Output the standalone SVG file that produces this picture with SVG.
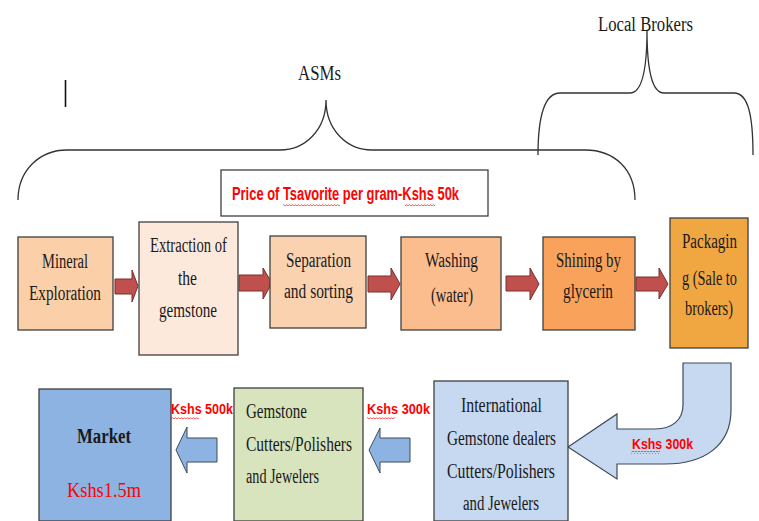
<svg xmlns="http://www.w3.org/2000/svg" width="759" height="521" viewBox="0 0 759 521">
<style>
.box{stroke:#3f3f3f;stroke-width:1.3}
.t{font-family:"Liberation Serif",serif;font-size:20px;fill:#1a1a1a}
.red{font-family:"Liberation Sans",Arial,sans-serif;font-weight:bold;font-size:18px;fill:#ff0000}
.lbl{font-size:15px}
.brace{fill:none;stroke:#333;stroke-width:1.3}
.rarr{fill:#c0504d;stroke:#7a2e2c;stroke-width:1}
.barr{fill:#8db3e2;stroke:#3f4a5a;stroke-width:1}
.uarr{fill:#c6d9f1;stroke:#3f4a5a;stroke-width:1.2}
</style>
<defs>
<pattern id="wavy" width="3" height="3" patternUnits="userSpaceOnUse">
<path d="M0,2.2 L1.5,0.6 L3,2.2" fill="none" stroke="#ff0000" stroke-width="0.7"/>
</pattern>
</defs>
<rect width="759" height="521" fill="#ffffff"/>

<g id="braces">
<path class="brace" d="M18,200 C18,170 40,150 67,150 L280,150 C305,150 326,130 326,100 C326,130 347,150 372,150 L585,150 C615,150 635,170 635,200"/>
<path class="brace" d="M538,155 C538,115 545,93 560,93 L630,93 C642,93 647,70 647,30 C647,70 652,93 664,93 L734,93 C748,93 753,115 753,155"/>
<line x1="65.5" y1="80" x2="65.5" y2="107" stroke="#111" stroke-width="1.6"/>
<text class="t" x="298" y="80" font-size="25" textLength="43" lengthAdjust="spacingAndGlyphs">ASMs</text>
<text class="t" x="598" y="31" font-size="26" textLength="95" lengthAdjust="spacingAndGlyphs">Local Brokers</text>
</g>

<g id="price">
<rect x="221" y="170" width="267" height="46" fill="#ffffff" stroke="#3f3f3f" stroke-width="1.3"/>
<text class="red" x="232" y="200" textLength="227" lengthAdjust="spacingAndGlyphs">Price of Tsavorite per gram-Kshs 50k</text>
<rect x="283" y="203" width="57" height="3" fill="url(#wavy)"/>
<rect x="405" y="203" width="30" height="3" fill="url(#wavy)"/>
</g>

<g id="connectors">
<polygon class="rarr" points="115,279 132,279 132,270 138,286 132,302 132,294 115,294"/>
<polygon class="rarr" points="239,275 263,275 263,268 272,283 263,299 263,291 239,291"/>
<polygon class="rarr" points="368,276 391,276 391,268 400,284 391,300 391,292 368,292"/>
<polygon class="rarr" points="506,276 530,276 530,268 539,284 530,300 530,291 506,291"/>
<polygon class="rarr" points="636,277 659,277 659,268 668,284 659,299 659,291 636,291"/>
<path class="uarr" d="M683,363 L731,363 L731,410 C731,445 705,464 665,464 L617,464 L617,479 L568,447 L617,414 L617,429 L655,429 C672,429 683,420 683,405 Z"/>
<polygon class="barr" points="217,438 187,438 187,427 176,450 187,473 187,462 217,462"/>
<polygon class="barr" points="410,438 380,438 380,428 369,450 380,473 380,462 410,462"/>
<text class="red lbl" x="632" y="449" textLength="61" lengthAdjust="spacingAndGlyphs">Kshs 300k</text>
<rect x="631" y="451" width="29" height="3" fill="url(#wavy)"/>
<text class="red lbl" x="171" y="414" textLength="62" lengthAdjust="spacingAndGlyphs">Kshs 500k</text>
<rect x="171" y="416" width="28" height="3" fill="url(#wavy)"/>
<text class="red lbl" x="367" y="414" textLength="63" lengthAdjust="spacingAndGlyphs">Kshs 300k</text>
<rect x="367" y="416" width="28" height="3" fill="url(#wavy)"/>
</g>

<g id="mineral">
<rect class="box" x="18" y="237" width="95" height="93" fill="#fbcfa8"/>
<text class="t" x="42" y="268" textLength="46" lengthAdjust="spacingAndGlyphs">Mineral</text>
<text class="t" x="29" y="300" textLength="72" lengthAdjust="spacingAndGlyphs">Exploration</text>
</g>
<g id="extraction">
<rect class="box" x="139" y="222" width="99" height="133" fill="#fde9dc"/>
<text class="t" x="150" y="252" textLength="77" lengthAdjust="spacingAndGlyphs">Extraction of</text>
<text class="t" x="178" y="285" textLength="19" lengthAdjust="spacingAndGlyphs">the</text>
<text class="t" x="159" y="317" textLength="58" lengthAdjust="spacingAndGlyphs">gemstone</text>
</g>
<g id="separation">
<rect class="box" x="270" y="236" width="96" height="92" fill="#fbd2b0"/>
<text class="t" x="286" y="267" textLength="65" lengthAdjust="spacingAndGlyphs">Separation</text>
<text class="t" x="284" y="298" textLength="69" lengthAdjust="spacingAndGlyphs">and sorting</text>
</g>
<g id="washing">
<rect class="box" x="401" y="237" width="100" height="93" fill="#fbbd8e"/>
<text class="t" x="425" y="267" textLength="53" lengthAdjust="spacingAndGlyphs">Washing</text>
<text class="t" x="431" y="302" textLength="42" lengthAdjust="spacingAndGlyphs">(water)</text>
</g>
<g id="shining">
<rect class="box" x="543" y="237" width="92" height="93" fill="#f9a25c"/>
<text class="t" x="556" y="267" textLength="65" lengthAdjust="spacingAndGlyphs">Shining by</text>
<text class="t" x="563" y="298" textLength="50" lengthAdjust="spacingAndGlyphs">glycerin</text>
</g>
<g id="packaging">
<rect class="box" x="670" y="218" width="78" height="130" fill="#f0a742"/>
<text class="t" x="682" y="248" textLength="55" lengthAdjust="spacingAndGlyphs">Packagin</text>
<text class="t" x="682" y="285" textLength="55" lengthAdjust="spacingAndGlyphs">g (Sale to</text>
<text class="t" x="685" y="315" textLength="48" lengthAdjust="spacingAndGlyphs">brokers)</text>
</g>
<g id="market">
<rect class="box" x="39" y="389" width="132" height="132" fill="#8db3e2"/>
<text class="t" x="77" y="443" font-size="26" font-weight="bold" textLength="54" lengthAdjust="spacingAndGlyphs">Market</text>
<text class="t" x="67" y="497" font-size="27" style="fill:#ff0000" textLength="74" lengthAdjust="spacingAndGlyphs">Kshs1.5m</text>
</g>
<g id="cutters">
<rect class="box" x="234" y="388" width="129" height="133" fill="#d7e4bd"/>
<text class="t" x="246" y="418" textLength="61" lengthAdjust="spacingAndGlyphs">Gemstone</text>
<text class="t" x="246" y="451" textLength="106" lengthAdjust="spacingAndGlyphs">Cutters/Polishers</text>
<text class="t" x="246" y="483" textLength="73" lengthAdjust="spacingAndGlyphs">and Jewelers</text>
</g>
<g id="international">
<rect class="box" x="434" y="381" width="134" height="140" fill="#c6d9f1"/>
<text class="t" x="461" y="412" textLength="81" lengthAdjust="spacingAndGlyphs">International</text>
<text class="t" x="447" y="445" textLength="109" lengthAdjust="spacingAndGlyphs">Gemstone dealers</text>
<text class="t" x="447" y="478" textLength="108" lengthAdjust="spacingAndGlyphs">Cutters/Polishers</text>
<text class="t" x="463" y="510" textLength="76" lengthAdjust="spacingAndGlyphs">and Jewelers</text>
</g>
</svg>
